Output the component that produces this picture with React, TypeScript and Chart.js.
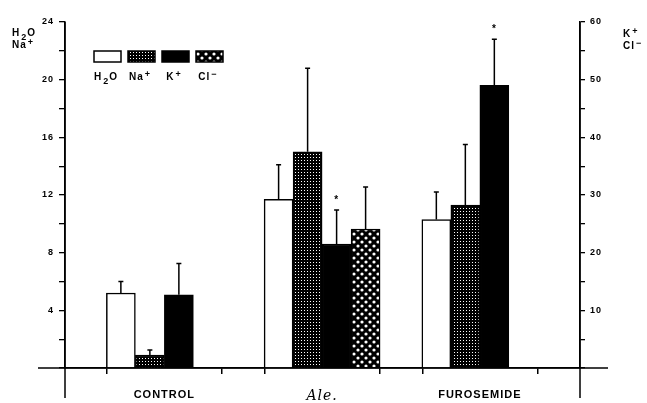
import React, { useEffect, useRef } from 'react';
import { Chart, registerables } from 'chart.js';

Chart.register(...registerables);

// ---------------- data ----------------
const categories = ['CONTROL', 'Ale.', 'FUROSEMIDE'];
const seriesNames = ['H₂O', 'Na⁺', 'K⁺', 'Cl⁻'];
const h2oValues = [5.2, 11.7, 10.3];
const h2oErrors = [0.8, 2.4, 1.9];
const naValues = [0.9, 15.0, 11.3];
const naErrors = [0.35, 5.8, 4.2];
const kValues = [12.7, 21.5, 49.0];
const kErrors = [5.4, 5.9, 8.0];
const clValues = [null, 24.1, null];
const clErrors = [null, 7.3, null];
const kSignificant = [false, true, true];
const leftAxisTitle = ['H₂O', 'Na⁺'];
const rightAxisTitle = ['K⁺', 'Cl⁻'];
const leftTickLabels = [4, 8, 12, 16, 20, 24];
const rightTickLabels = [10, 20, 30, 40, 50, 60];

// ---------------- style constants ----------------
const FONT = '"Liberation Sans", Arial, sans-serif';
const BAR_W = 29;
const GROUP_HALF = 0.365; // half a group of four bars, in category units

const SUB: Record<string, string> = { '₂': '2' };
const SUP: Record<string, string> = { '⁺': '+', '⁻': '−' };

function drawRich(ctx: CanvasRenderingContext2D, text: string, x: number, y: number, size: number, align: 'left' | 'center') {
  const segs: { t: string; mode: string; w?: number }[] = [];
  for (const ch of text) {
    const mode = SUB[ch] ? 'sub' : SUP[ch] ? 'sup' : 'n';
    const t = SUB[ch] || SUP[ch] || ch;
    const last = segs[segs.length - 1];
    if (last && last.mode === mode) last.t += t;
    else segs.push({ t, mode });
  }
  const font = (m: string) => `bold ${m === 'n' ? size : Math.round(size * 0.85)}px ${FONT}`;
  let w = 0;
  segs.forEach((s) => {
    ctx.font = font(s.mode);
    s.w = ctx.measureText(s.t).width + (s.mode !== 'n' ? 1 : 0);
    w += s.w;
  });
  let cx = align === 'center' ? x - w / 2 : x;
  ctx.textAlign = 'left';
  ctx.textBaseline = 'alphabetic';
  segs.forEach((s) => {
    ctx.font = font(s.mode);
    const dy = s.mode === 'sub' ? size * 0.35 : s.mode === 'sup' ? -size * 0.35 : 0;
    ctx.fillText(s.t, cx + (s.mode !== 'n' ? 1 : 0), y + dy);
    cx += s.w || 0;
  });
}

function makePattern(kind: 'grid' | 'dots'): CanvasPattern | string {
  const c = document.createElement('canvas');
  const g = c.getContext('2d');
  if (!g) return '#000';
  if (kind === 'grid') {
    c.width = 3;
    c.height = 3;
    g.fillStyle = '#000';
    g.fillRect(0, 0, 3, 3);
    g.fillStyle = '#fff';
    g.fillRect(1, 1, 1, 1);
  } else {
    c.width = 8;
    c.height = 8;
    g.fillStyle = '#000';
    g.fillRect(0, 0, 8, 8);
    g.fillStyle = '#fff';
    g.beginPath();
    g.arc(2, 2, 1.6, 0, Math.PI * 2);
    g.arc(6, 6, 1.6, 0, Math.PI * 2);
    g.fill();
  }
  return g.createPattern(c, 'repeat') || '#000';
}

const isCenter = (v: number) => Math.abs(v - Math.round(v)) < 1e-9;

export default function App() {
  const ref = useRef<HTMLCanvasElement>(null);

  useEffect(() => {
    const canvas = ref.current;
    if (!canvas) return;

    const errors = [h2oErrors, naErrors, kErrors, clErrors];
    const toPts = (arr: (number | null)[]) => arr.map((v, i) => ({ x: i, y: v }));

    const decor = {
      id: 'decor',
      beforeDraw(chart: any) {
        (chart.ctx as any).letterSpacing = '1px';
      },
      afterDatasetsDraw(chart: any) {
        const ctx = chart.ctx as CanvasRenderingContext2D;
        ctx.save();
        ctx.strokeStyle = '#000';
        ctx.fillStyle = '#000';
        ctx.lineWidth = 1.5;
        chart.data.datasets.forEach((ds: any, di: number) => {
          const meta = chart.getDatasetMeta(di);
          const ys = chart.scales[ds.yAxisID];
          meta.data.forEach((bar: any, j: number) => {
            const v = ds.data[j].y;
            const e = errors[di][j];
            if (v == null || e == null) return;
            const yTop = ys.getPixelForValue(v + e);
            ctx.beginPath();
            ctx.moveTo(bar.x, bar.y);
            ctx.lineTo(bar.x, yTop);
            ctx.moveTo(bar.x - 2.5, yTop);
            ctx.lineTo(bar.x + 2.5, yTop);
            ctx.stroke();
            if (di === 2 && kSignificant[j]) {
              ctx.font = `bold 10px ${FONT}`;
              ctx.textAlign = 'center';
              ctx.textBaseline = 'middle';
              ctx.fillText('*', bar.x, yTop - 10);
            }
          });
        });
        ctx.restore();
      },
      afterDraw(chart: any) {
        const ctx = chart.ctx as CanvasRenderingContext2D;
        const a = chart.chartArea;
        ctx.save();
        ctx.strokeStyle = '#000';
        ctx.fillStyle = '#000';
        ctx.lineWidth = 1.5;
        ctx.beginPath();
        ctx.moveTo(a.left - 27, a.bottom);
        ctx.lineTo(a.right + 28, a.bottom);
        ctx.moveTo(a.left, a.top);
        ctx.lineTo(a.left, a.bottom + 30);
        ctx.moveTo(a.right, a.top);
        ctx.lineTo(a.right, a.bottom + 30);
        ctx.stroke();

        // axis titles
        drawRich(ctx, leftAxisTitle[0], 12, 36, 10, 'left');
        drawRich(ctx, leftAxisTitle[1], 12, 48, 10, 'left');
        drawRich(ctx, rightAxisTitle[0], 623, 37, 10, 'left');
        drawRich(ctx, rightAxisTitle[1], 623, 49, 10, 'left');

        // legend
        chart.data.datasets.forEach((ds: any, i: number) => {
          const bx = 94 + i * 34;
          const by = 51;
          ctx.fillStyle = ds.backgroundColor;
          ctx.fillRect(bx, by, 27, 11);
          ctx.lineWidth = 1.5;
          ctx.strokeRect(bx, by, 27, 11);
          ctx.fillStyle = '#000';
          drawRich(ctx, ds.label, bx + 12, 80, 10, 'center');
        });
        ctx.restore();
      },
    };

    const chart = new Chart(canvas, {
      type: 'bar',
      data: {
        datasets: [
          { label: seriesNames[0], data: toPts(h2oValues), yAxisID: 'y', backgroundColor: '#fff' },
          { label: seriesNames[1], data: toPts(naValues), yAxisID: 'y', backgroundColor: makePattern('grid') },
          { label: seriesNames[2], data: toPts(kValues), yAxisID: 'y2', backgroundColor: '#000' },
          { label: seriesNames[3], data: toPts(clValues), yAxisID: 'y2', backgroundColor: makePattern('dots') },
        ] as any,
      },
      options: {
        responsive: false,
        animation: false,
        events: [],
        layout: { padding: { top: 22, left: 0, right: 0, bottom: 0 } },
        datasets: {
          bar: { barThickness: BAR_W, borderColor: '#000', borderWidth: 1.5, grouped: true } as any,
        },
        plugins: { legend: { display: false }, tooltip: { enabled: false } },
        scales: {
          x: {
            type: 'linear',
            min: -0.63,
            max: 2.635,
            offset: false,
            afterBuildTicks: (scale: any) => {
              const t: { value: number }[] = [];
              categories.forEach((_, i) => {
                t.push({ value: i - GROUP_HALF }, { value: i }, { value: i + GROUP_HALF });
              });
              scale.ticks = t;
            },
            afterFit: (scale: any) => {
              scale.height = 35;
            },
            grid: {
              offset: false,
              drawOnChartArea: false,
              drawTicks: true,
              tickLength: 6,
              lineWidth: 1.5,
              color: (c: any) => (c.tick && isCenter(c.tick.value) ? 'rgba(0,0,0,0)' : '#000'),
            },
            border: { display: true, color: '#000', width: 1.5 },
            ticks: {
              autoSkip: false,
              maxRotation: 0,
              padding: 14,
              color: '#000',
              font: (c: any) =>
                c.tick && isCenter(c.tick.value) && Math.round(c.tick.value) === 1
                  ? { family: '"DejaVu Serif", serif', style: 'italic', size: 14 }
                  : { family: FONT, weight: 'bold', size: 11 },
              callback: (v: any) => (isCenter(Number(v)) ? categories[Math.round(Number(v))] : ''),
            },
          },
          y: {
            type: 'linear',
            position: 'left',
            min: 0,
            max: 24,
            afterFit: (scale: any) => {
              scale.width = 65;
            },
            grid: { drawOnChartArea: false, drawTicks: true, tickLength: 6, color: '#000', lineWidth: 1.3 },
            border: { display: true, color: '#000', width: 1.5 },
            ticks: {
              stepSize: 2,
              padding: 5,
              color: '#000',
              font: { family: FONT, weight: 'bold', size: 9 },
              callback: (v: any) => (leftTickLabels.includes(Number(v)) ? String(v) : ''),
            },
          },
          y2: {
            type: 'linear',
            position: 'right',
            min: 0,
            max: 60,
            afterFit: (scale: any) => {
              scale.width = 67;
            },
            grid: { drawOnChartArea: false, drawTicks: true, tickLength: 5, color: '#000', lineWidth: 1.3 },
            border: { display: true, color: '#000', width: 1.5 },
            ticks: {
              stepSize: 5,
              padding: 5,
              color: '#000',
              font: { family: FONT, weight: 'bold', size: 9 },
              callback: (v: any) => (rightTickLabels.includes(Number(v)) ? String(v) : ''),
            },
          },
        },
      } as any,
      plugins: [decor],
    });

    return () => chart.destroy();
  }, []);

  return (
    <div style={{ position: 'absolute', left: 0, top: 0, width: 647, height: 403, background: '#fff' }}>
      <canvas ref={ref} width={647} height={403} style={{ display: 'block' }} />
    </div>
  );
}
